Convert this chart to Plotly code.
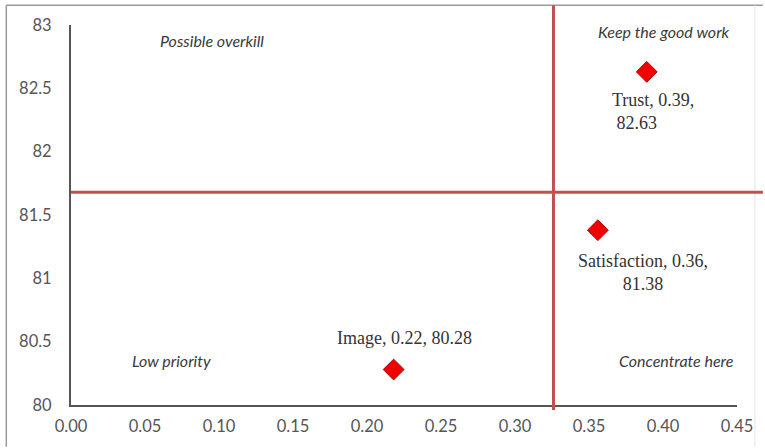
import plotly.graph_objects as go

# ---- data ----
names = ["Image", "Satisfaction", "Trust"]
x_vals = [0.218, 0.356, 0.389]
y_vals = [80.28, 81.38, 82.63]
x_ref_line = 0.326
y_ref_line = 81.68
x_ticks = [0.00, 0.05, 0.10, 0.15, 0.20, 0.25, 0.30, 0.35, 0.40, 0.45]
y_ticks = [80, 80.5, 81, 81.5, 82, 82.5, 83]
quadrants = ["Possible overkill", "Keep the good work", "Low priority", "Concentrate here"]
quad_x = [0.095, 0.401, 0.068, 0.409]
quad_y = [82.88, 82.95, 80.35, 80.35]

X_RANGE = [0, 0.45]
Y_RANGE = [80, 83]
W, H = 765, 448
ML, MR, MT, MB = 71, 25, 25, 40
pw = W - ML - MR
ph = H - MT - MB

def px_to_paper_x(px):
    return (px - ML) / pw

def px_to_paper_y(py):
    return (H - MB - py) / ph

fig = go.Figure()
fig.add_trace(go.Scatter(
    x=x_vals, y=y_vals, mode="markers",
    marker=dict(symbol="diamond", size=16, color="#F00000",
                line=dict(color="#B00000", width=1)),
    showlegend=False, cliponaxis=False,
))

label_font = dict(family="Liberation Serif", size=18, color="#333333")
# data labels
offsets = {
    "Image": dict(text="{n}, {x:.2f}, {y:.2f}", xshift=11, yshift=32, align="center", xanchor="center"),
    "Satisfaction": dict(text="{n}, {x:.2f},<br>{y:.2f}", xshift=45, yshift=-42, align="center", xanchor="center"),
    "Trust": dict(text="{n}, {x:.2f},<br> {y:.2f}", xshift=-37, yshift=-40, align="left", xanchor="left"),
}
for n, xv, yv in zip(names, x_vals, y_vals):
    o = offsets[n]
    fig.add_annotation(
        x=xv, y=yv, xref="x", yref="y",
        text=o["text"].format(n=n, x=xv, y=yv),
        showarrow=False, font=label_font, align=o["align"], xanchor=o["xanchor"],
        xshift=o["xshift"], yshift=o["yshift"],
    )

for t, qx, qy in zip(quadrants, quad_x, quad_y):
    fig.add_annotation(
        x=qx, y=qy, xref="x", yref="y", text="<i>" + t + "</i>",
        showarrow=False, font=dict(family="Lato", size=16, color="#3a3a3a"),
    )

# reference lines
xl = (x_ref_line - X_RANGE[0]) / (X_RANGE[1] - X_RANGE[0])
yl = (y_ref_line - Y_RANGE[0]) / (Y_RANGE[1] - Y_RANGE[0])
red = "#C0504D"
fig.add_shape(type="line", xref="paper", yref="paper",
              x0=0, x1=px_to_paper_x(766), y0=yl, y1=yl,
              line=dict(color=red, width=3), layer="above")
fig.add_shape(type="line", xref="paper", yref="paper",
              x0=xl, x1=xl, y0=px_to_paper_y(413), y1=px_to_paper_y(5),
              line=dict(color=red, width=3), layer="above")

# outer border
fig.add_shape(type="line", xref="paper", yref="paper",
              x0=px_to_paper_x(6), x1=px_to_paper_x(6),
              y0=px_to_paper_y(450), y1=px_to_paper_y(5),
              line=dict(color="#9a9a9a", width=1.5), layer="below")
fig.add_shape(type="line", xref="paper", yref="paper",
              x0=px_to_paper_x(6), x1=px_to_paper_x(766),
              y0=px_to_paper_y(5), y1=px_to_paper_y(5),
              line=dict(color="#9a9a9a", width=1.5), layer="below")
fig.add_shape(type="line", xref="paper", yref="paper",
              x0=px_to_paper_x(758), x1=px_to_paper_x(758),
              y0=px_to_paper_y(450), y1=px_to_paper_y(5),
              line=dict(color="#e4e4e4", width=1), layer="below")

tick_font = dict(family="Lato", size=16.5, color="#555555")
fig.update_layout(
    width=W, height=H,
    margin=dict(l=ML, r=MR, t=MT, b=MB),
    paper_bgcolor="white", plot_bgcolor="white",
    xaxis=dict(range=X_RANGE, tickvals=x_ticks,
               ticktext=[f"{v:.2f}" for v in x_ticks],
               showgrid=False, zeroline=False, showline=True,
               linecolor="#555555", linewidth=2, ticks="",
               tickfont=tick_font, ticklabelstandoff=5),
    yaxis=dict(range=Y_RANGE, tickvals=y_ticks,
               ticktext=[f"{v:g}" for v in y_ticks],
               showgrid=False, zeroline=False, showline=True,
               linecolor="#555555", linewidth=2, ticks="",
               tickfont=tick_font, ticklabelstandoff=14),
)

fig.write_html("out.html")
